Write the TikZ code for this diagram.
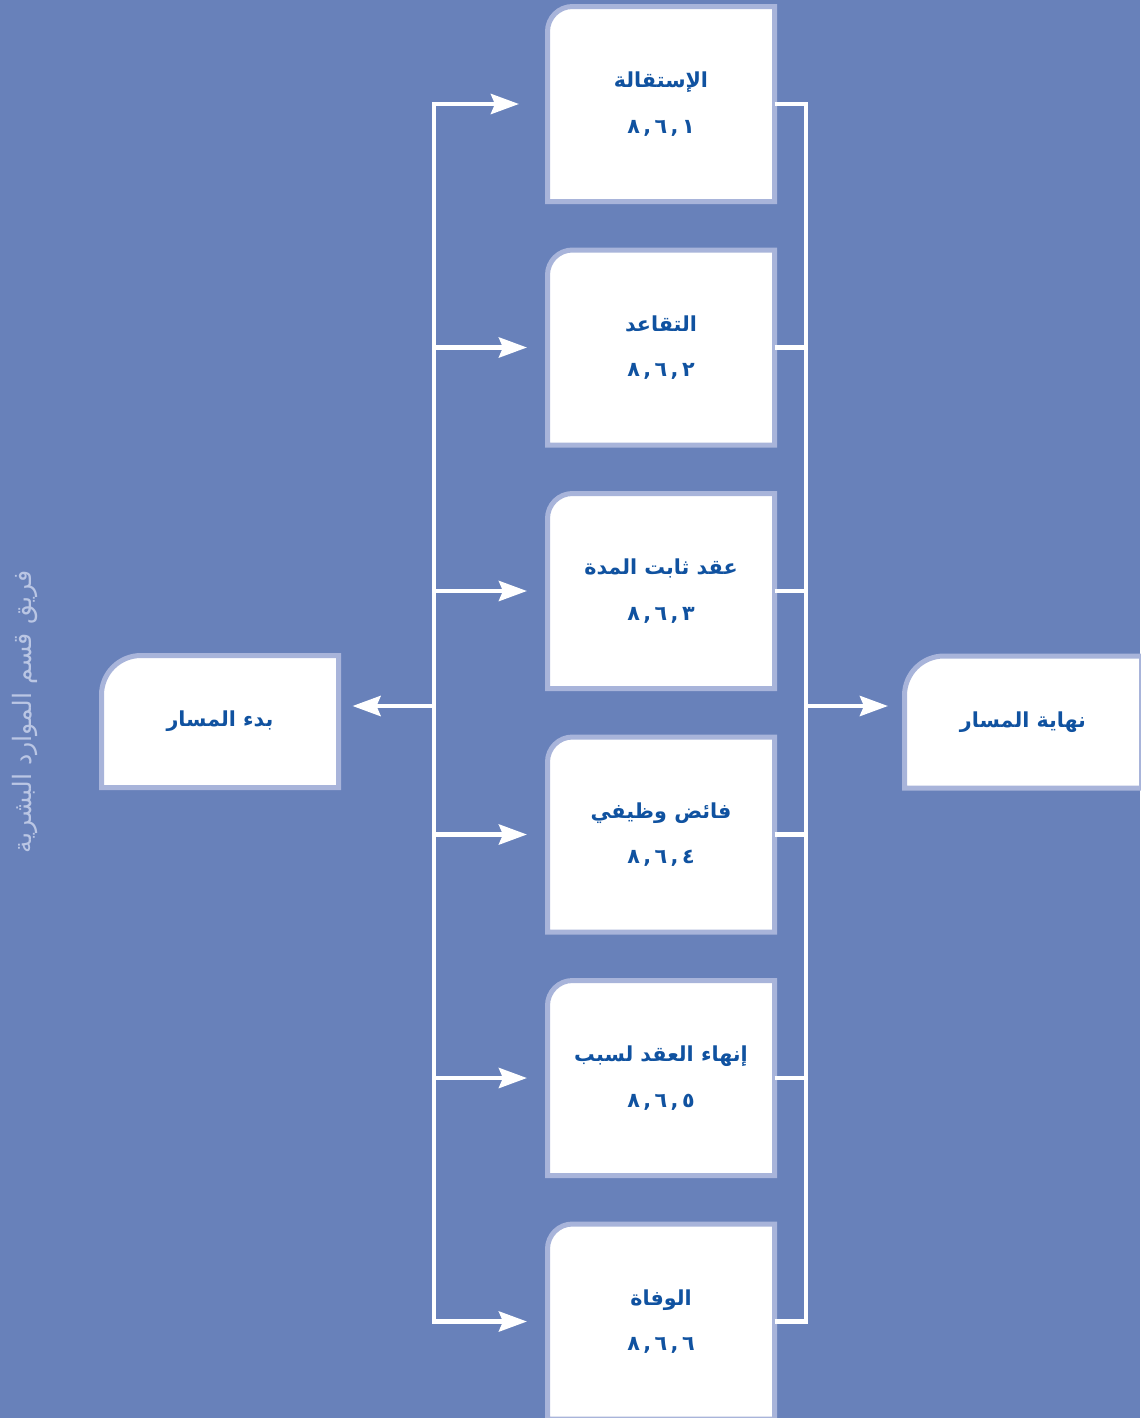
\documentclass[tikz,border=0pt]{standalone}
\usepackage{fontspec}
\usepackage{xcolor}
\usepackage{tikz}
\usetikzlibrary{arrows.meta,backgrounds}
\newfontfamily\arabicfont[Script=Arabic]{DejaVu Sans}
\TeXXeTstate=1
\definecolor{hrback}{RGB}{104,129,186}
\definecolor{hredge}{RGB}{168,180,218}
\definecolor{hrtext}{RGB}{16,82,160}
\definecolor{hrlabel}{RGB}{186,198,228}

\begin{document}
\begin{tikzpicture}[
        x=0.75pt, y=-0.75pt,
        card/.style={minimum width=170.25pt, minimum height=146.25pt,
                     inner sep=0pt, outer sep=0pt, align=center, text=hrtext,
                     font=\arabicfont\bfseries\fontsize{15.5}{34}\selectfont},
        endcard/.style={minimum width=177.75pt, minimum height=99pt,
                     inner sep=0pt, outer sep=0pt, text=hrtext,
                     font=\arabicfont\bfseries\fontsize{15.5}{18}\selectfont},
        tabline/.style={draw=hredge, fill=white, line width=3.75pt},
        wire/.style={draw=white, line width=3.4pt},
        arrow/.style={wire, -{Stealth[length=21pt, width=15pt, inset=3pt]},
                      shorten >=15.4pt},
    ]
        \useasboundingbox (0,0) rectangle (1140,1418);

        % Nodes
        \node[card] (resign) at (661,104)
              {\beginR الإستقالة\endR\\٨\,,\,٦\,,\,١};
        \node[card] (retire) at (661,347.5)
              {\beginR التقاعد\endR\\٨\,,\,٦\,,\,٢};
        \node[card] (fixedterm) at (661,591)
              {\beginR عقد ثابت المدة\endR\\٨\,,\,٦\,,\,٣};
        \node[card] (surplus) at (661,834.5)
              {\beginR فائض وظيفي\endR\\٨\,,\,٦\,,\,٤};
        \node[card] (dismiss) at (661,1078)
              {\beginR إنهاء العقد لسبب\endR\\٨\,,\,٦\,,\,٥};
        \node[card] (death) at (661,1321.5)
              {\beginR الوفاة\endR\\٨\,,\,٦\,,\,٦};
        \node[endcard] (start) at (220,721.5)
              {\beginR بدء المسار\endR};
        \node[endcard] (finish) at (1023,722)
              {\beginR نهاية المسار\endR};
        \node[rotate=90, text=hrlabel, font=\arabicfont\fontsize{19}{22}\selectfont]
              (team) at (25,712) {\beginR فريق قسم الموارد البشرية\endR};

        % Tabs
        \begin{pgfonlayer}{background}
            \fill[hrback] (0,0) rectangle (1140,1418);
            \draw[tabline] (resign.south west) [rounded corners=18.75pt]
                  -- (resign.north west) -- (resign.north) [sharp corners]
                  -- (resign.north east) -- (resign.south east) -- cycle;
            \draw[tabline] (retire.south west) [rounded corners=18.75pt]
                  -- (retire.north west) -- (retire.north) [sharp corners]
                  -- (retire.north east) -- (retire.south east) -- cycle;
            \draw[tabline] (fixedterm.south west) [rounded corners=18.75pt]
                  -- (fixedterm.north west) -- (fixedterm.north) [sharp corners]
                  -- (fixedterm.north east) -- (fixedterm.south east) -- cycle;
            \draw[tabline] (surplus.south west) [rounded corners=18.75pt]
                  -- (surplus.north west) -- (surplus.north) [sharp corners]
                  -- (surplus.north east) -- (surplus.south east) -- cycle;
            \draw[tabline] (dismiss.south west) [rounded corners=18.75pt]
                  -- (dismiss.north west) -- (dismiss.north) [sharp corners]
                  -- (dismiss.north east) -- (dismiss.south east) -- cycle;
            \draw[tabline] (death.south west) [rounded corners=18.75pt]
                  -- (death.north west) -- (death.north) [sharp corners]
                  -- (death.north east) -- (death.south east) -- cycle;
            \draw[tabline] (start.south west) [rounded corners=29.6pt]
                  -- (start.north west) -- (start.north) [sharp corners]
                  -- (start.north east) -- (start.south east) -- cycle;
            \draw[tabline] (finish.south west) [rounded corners=29.6pt]
                  -- (finish.north west) -- (finish.north) [sharp corners]
                  -- (finish.north east) -- (finish.south east) -- cycle;
        \end{pgfonlayer}

        % Fork and merge points
        \coordinate (fork1) at (434,104);
        \coordinate (fork2) at (434,347.5);
        \coordinate (fork3) at (434,591);
        \coordinate (fork4) at (434,834.5);
        \coordinate (fork5) at (434,1078);
        \coordinate (fork6) at (434,1321.5);
        \coordinate (forkmid) at (434,706);
        \coordinate (merge1) at (806,104);
        \coordinate (merge6) at (806,1321.5);
        \coordinate (mergemid) at (806,706);

        % Arrows
        \draw[wire, line cap=rect] (fork1) -- (fork6);
        \draw[arrow, shorten >=21.4pt] (fork1) -- (resign);
        \draw[arrow] (fork2) -- (retire);
        \draw[arrow] (fork3) -- (fixedterm);
        \draw[arrow] (fork4) -- (surplus);
        \draw[arrow] (fork5) -- (dismiss);
        \draw[arrow] (fork6) -- (death);
        \draw[arrow, shorten >=10.5pt] (forkmid) -- (forkmid -| start.east);

        \draw[wire, line cap=rect] (merge1) -- (merge6);
        \draw[wire] (resign)    -- (resign -| merge1);
        \draw[wire] (retire)    -- (retire -| merge1);
        \draw[wire] (fixedterm) -- (fixedterm -| merge1);
        \draw[wire] (surplus)   -- (surplus -| merge1);
        \draw[wire] (dismiss)   -- (dismiss -| merge1);
        \draw[wire] (death)     -- (death -| merge1);
        \draw[arrow, shorten >=12.4pt] (mergemid) -- (mergemid -| finish.west);
\end{tikzpicture}
\end{document}
